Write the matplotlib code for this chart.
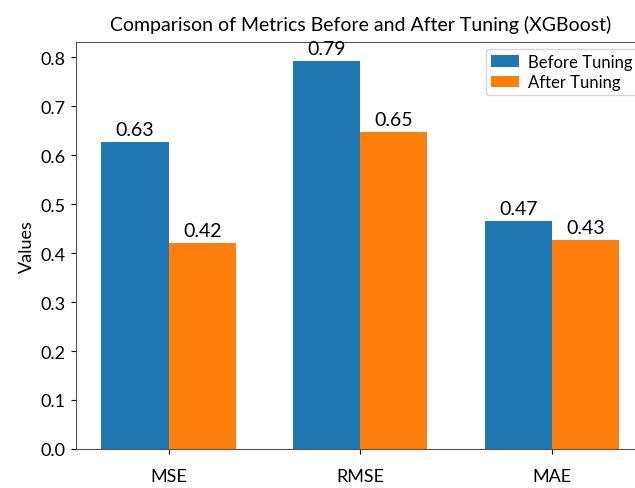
import matplotlib.pyplot as plt
import numpy as np

plt.rcParams['font.family'] = ['Lato', 'DejaVu Sans']

metrics = ['MSE', 'RMSE', 'MAE']
before_tuning = [0.627, 0.792, 0.466]
after_tuning = [0.421, 0.648, 0.426]

x = np.arange(len(metrics))
width = 0.35

fig = plt.figure(figsize=(6.35, 4.89), dpi=100)
ax = fig.add_axes([0.119, 0.080, 0.897, 0.832])

b1 = ax.bar(x - width/2, before_tuning, width, label='Before Tuning', color='#1f77b4')
b2 = ax.bar(x + width/2, after_tuning, width, label='After Tuning', color='#ff7f0e')

# value labels on top of each bar
for bars in (b1, b2):
    for bar in bars:
        h = bar.get_height()
        ax.annotate(f'{h:.2f}', xy=(bar.get_x() + bar.get_width()/2, h),
                    xytext=(0, 3), textcoords='offset points',
                    ha='center', va='bottom', fontsize=14)

ax.set_title('Comparison of Metrics Before and After Tuning (XGBoost)', fontsize=14, pad=9)
ax.set_ylabel('Values', fontsize=13)
ax.set_xticks(x)
ax.set_xticklabels(metrics)
ax.tick_params(labelsize=13)
ax.tick_params(axis='x', pad=10)
for s in ax.spines.values():
    s.set_color('#555555')
ax.legend(loc='upper left', bbox_to_anchor=(486/635, 1 - 50/489),
          bbox_transform=fig.transFigure, borderaxespad=0,
          fontsize=12, handlelength=1.7, handletextpad=0.5,
          labelspacing=0.25, borderpad=0.3)

fig.savefig('out.png', dpi=100)
